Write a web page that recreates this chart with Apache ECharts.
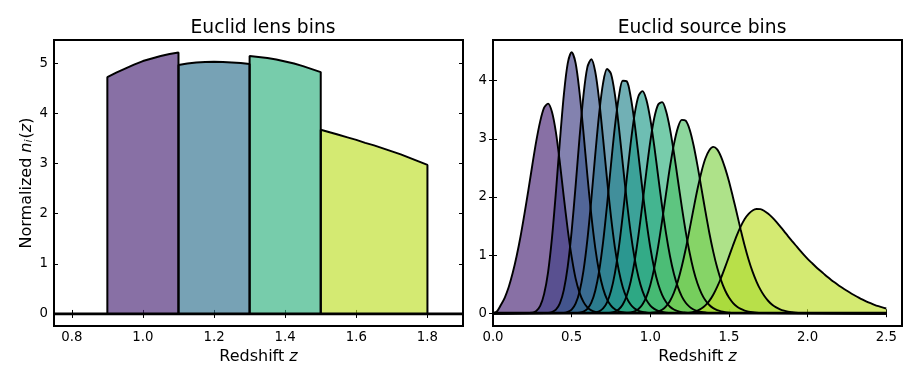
<!DOCTYPE html>
<html><head><meta charset="utf-8">
<script src="https://cdn.jsdelivr.net/npm/echarts@6/dist/echarts.min.js"></script>
<style>html,body{margin:0;padding:0;background:#fff}#c{width:920px;height:384px}</style>
</head><body><div id="c"></div>
<script>
// ---------- data ----------
const STEP = 0.025;

// lens bins: start redshift + values on a 0.025 grid
const lensStarts = [0.9, 1.1, 1.3, 1.5];
const lens1 = [4.72, 4.81, 4.89, 4.97, 5.04, 5.09, 5.14, 5.18, 5.21];
const lens2 = [4.96, 4.99, 5.01, 5.02, 5.025, 5.02, 5.01, 5.0, 4.98];
const lens3 = [5.14, 5.12, 5.10, 5.07, 5.03, 4.99, 4.94, 4.88, 4.82];
const lens4 = [3.67, 3.62, 3.57, 3.52, 3.47, 3.41, 3.36, 3.30, 3.24, 3.18, 3.11, 3.04, 2.97];
const lensColors = ['#482475', '#2e708e', '#2eb07e', '#bddf26'];

// source bins: start redshift + values on a 0.025 grid
const srcStarts = [0, 0.25, 0.35, 0.45, 0.525, 0.625, 0.725, 0.85, 1.0, 1.225];
const src1 = [0, .03, .14, .27, .45, .69, .98, 1.32, 1.71, 2.12, 2.55, 2.96, 3.30, 3.535, 3.605, 3.46, 3.11, 2.59, 2.00, 1.44, .97, .60, .355, .195, .10, .048, .022, .009, .004];
const src2 = [.010, .039, .125, .333, .704, 1.300, 2.086, 2.955, 3.748, 4.298, 4.490, 4.304, 3.801, 3.113, 2.369, 1.686, 1.126, .709, .423, .238, .129, .067, .033, .016, .008, .004];
const src3 = [.004, .019, .060, .168, .397, .801, 1.411, 2.185, 3.016, 3.748, 4.233, 4.369, 4.153, 3.659, 2.998, 2.302, 1.660, 1.130, .730, .448, .264, .149, .080, .041, .021, .011, .005];
const src4 = [.005, .021, .061, .163, .369, .728, 1.265, 1.959, 2.727, 3.438, 3.962, 4.200, 4.120, 3.759, 3.207, 2.569, 1.943, 1.392, .949, .618, .385, .230, .132, .074, .040, .021, .011, .005];
const src5 = [.003, .008, .027, .075, .181, .387, .729, 1.226, 1.858, 2.554, 3.213, 3.725, 3.998, 3.990, 3.726, 3.271, 2.710, 2.126, 1.588, 1.130, .769, .503, .316, .193, .112, .064, .035, .019, .011, .005];
const src6 = [.004, .011, .032, .082, .188, .380, .690, 1.131, 1.689, 2.310, 2.917, 3.419, 3.736, 3.820, 3.674, 3.338, 2.877, 2.355, 1.839, 1.374, .984, .678, .452, .290, .180, .109, .064, .037, .021, .012, .006];
const src7 = [.004, .010, .027, .068, .150, .300, .541, .890, 1.346, 1.880, 2.438, 2.955, 3.358, 3.590, 3.631, 3.479, 3.171, 2.761, 2.296, 1.832, 1.405, 1.039, .740, .511, .342, .222, .141, .087, .052, .031, .018, .010, .005];
const src8 = [.004, .012, .032, .073, .150, .282, .487, .776, 1.149, 1.588, 2.057, 2.516, 2.905, 3.188, 3.326, 3.312, 3.161, 2.890, 2.540, 2.148, 1.756, 1.385, 1.060, .785, .564, .395, .269, .179, .116, .074, .046, .028, .017, .010, .006];
const src9 = [.005, .013, .029, .060, .118, .211, .352, .550, .803, 1.105, 1.446, 1.798, 2.136, 2.431, 2.662, 2.804, 2.861, 2.820, 2.691, 2.50, 2.27, 2.00, 1.72, 1.43, 1.16, .92, .715, .545, .405, .295, .21, .145, .10, .066, .043, .027, .016, .009, .005];
const src10 = [.005, .011, .024, .044, .080, .134, .212, .318, .452, .610, .788, .973, 1.161, 1.340, 1.493, 1.620, 1.708, 1.768, 1.792, 1.790, 1.759, 1.71, 1.648, 1.576, 1.495, 1.412, 1.327, 1.245, 1.165, 1.085, 1.008, .936, .869, .803, .742, .685, .627, .573, .523, .474, .429, .386, .343, .305, .268, .233, .201, .172, .145, .121, .099, .081];
const srcColors = ['#482475', '#413f84', '#38588c', '#2e708e', '#25858e', '#209b8a', '#2eb07e', '#52c269', '#83d34a', '#bddf26'];
const FILL_ALPHA = 0.65;

// axes
const lensRange = [0.75, 1.9], lensYRange = [-0.24, 5.46];
const srcRange = [0, 2.6], srcYRange = [-0.22, 4.70];
const lensXTicks = [0.8, 1.0, 1.2, 1.4, 1.6, 1.8];
const lensYTicks = [0, 1, 2, 3, 4, 5];
const srcXTicks = [0.0, 0.5, 1.0, 1.5, 2.0, 2.5];
const srcYTicks = [0, 1, 2, 3, 4];
const srcZEnd = 2.5;

// ---------- build ----------
const FONT = 'DejaVu Sans';
function gridPts(start, vals) {
  return vals.map((v, i) => [+(start + i * STEP).toFixed(4), v]);
}
const lensVals = [lens1, lens2, lens3, lens4];
const srcVals = [src1, src2, src3, src4, src5, src6, src7, src8, src9, src10];

const series = [];
series.push({type: 'line', xAxisIndex: 0, yAxisIndex: 0, data: [[lensRange[0], 0], [lensRange[1], 0]],
  symbol: 'none', lineStyle: {color: '#000', width: 2.8}, z: 3, silent: true});
lensVals.forEach((vals, k) => {
  const pts = gridPts(lensStarts[k], vals);
  const end = pts[pts.length - 1][0];
  const data = [[lensStarts[k], 0]].concat(pts, [[end, 0]]);
  series.push({type: 'line', xAxisIndex: 0, yAxisIndex: 0, data, symbol: 'none', smooth: false,
    lineStyle: {color: '#000', width: 2}, areaStyle: {color: lensColors[k], opacity: FILL_ALPHA}, z: 2});
});
srcVals.forEach((vals, k) => {
  let data = gridPts(srcStarts[k], vals);
  if (srcStarts[k] > 0) data = [[0, 0]].concat(data);
  const last = data[data.length - 1][0];
  if (last < srcZEnd) data = data.concat([[srcZEnd, 0]]);
  series.push({type: 'line', xAxisIndex: 2, yAxisIndex: 2, data, symbol: 'none', smooth: 0.3,
    lineStyle: {color: '#000', width: 1.9}, areaStyle: {color: srcColors[k], opacity: FILL_ALPHA}, z: 2});
});
series.push({type: 'line', xAxisIndex: 2, yAxisIndex: 2, data: [[0, 0], [srcZEnd, 0]],
  symbol: 'none', lineStyle: {color: '#000', width: 2.8}, z: 3, silent: true});

const tickStyle = {inside: true, length: 4, lineStyle: {color: '#000', width: 1}};
function xAx(grid, range, ticks, pos, show, nameTxt) {
  return {type: 'value', gridIndex: grid, position: pos, min: range[0], max: range[1],
    axisLine: {show: false}, splitLine: {show: false},
    axisTick: Object.assign({customValues: ticks}, tickStyle),
    axisLabel: {show: show, customValues: ticks, formatter: v => v.toFixed(1), color: '#000',
      fontFamily: FONT, fontSize: 13.3, margin: 5},
    name: show ? nameTxt : '', nameLocation: 'middle', nameGap: 23,
    nameTextStyle: {color: '#000', fontFamily: FONT, fontSize: 16,
      rich: {n: {fontSize: 16, fontFamily: FONT, color: '#000'}, i: {fontSize: 16, fontFamily: FONT, fontStyle: 'italic', color: '#000'}}}};
}
function yAx(grid, range, ticks, pos, show, nameTxt) {
  return {type: 'value', gridIndex: grid, position: pos, min: range[0], max: range[1],
    axisLine: {show: false}, splitLine: {show: false},
    axisTick: Object.assign({customValues: ticks}, tickStyle),
    axisLabel: {show: show, customValues: ticks, formatter: v => String(v), color: '#000',
      fontFamily: FONT, fontSize: 13.3, margin: 6},
    name: nameTxt || '', nameLocation: 'middle', nameGap: 19,
    nameTextStyle: {color: '#000', fontFamily: FONT, fontSize: 16,
      rich: {n: {fontSize: 16, fontFamily: FONT, color: '#000'},
             i: {fontSize: 16, fontFamily: FONT, fontStyle: 'italic', color: '#000'},
             s: {fontSize: 11, fontFamily: FONT, fontStyle: 'italic', color: '#000', verticalAlign: 'bottom', padding: [0, 1, 0, 0]}}}};
}

const option = {
  animation: false,
  backgroundColor: '#fff',
  title: [
    {text: 'Euclid lens bins', left: 258, top: 14, textAlign: 'center',
      textStyle: {fontFamily: FONT, fontSize: 18.7, fontWeight: 'normal', color: '#000'}},
    {text: 'Euclid source bins', left: 697, top: 14, textAlign: 'center',
      textStyle: {fontFamily: FONT, fontSize: 18.7, fontWeight: 'normal', color: '#000'}}
  ],
  grid: [
    {left: 54, top: 40, width: 409, height: 286, show: true, borderColor: '#000', borderWidth: 2, backgroundColor: 'transparent'},
    {left: 493, top: 40, width: 409, height: 286, show: true, borderColor: '#000', borderWidth: 2, backgroundColor: 'transparent'}
  ],
  xAxis: [
    xAx(0, lensRange, lensXTicks, 'bottom', true, '{n|Redshift }{i|z}'),
    xAx(0, lensRange, lensXTicks, 'top', false, ''),
    xAx(1, srcRange, srcXTicks, 'bottom', true, '{n|Redshift }{i|z}'),
    xAx(1, srcRange, srcXTicks, 'top', false, '')
  ],
  yAxis: [
    yAx(0, lensYRange, lensYTicks, 'left', true, '{n|Normalized }{i|n}{s|i}{n|(}{i|z}{n|)}'),
    yAx(0, lensYRange, lensYTicks, 'right', false, ''),
    yAx(1, srcYRange, srcYTicks, 'left', true, ''),
    yAx(1, srcYRange, srcYTicks, 'right', false, '')
  ],
  series
};
const chart = echarts.init(document.getElementById('c'), null, {renderer: 'canvas'});
chart.setOption(option);
</script></body></html>
